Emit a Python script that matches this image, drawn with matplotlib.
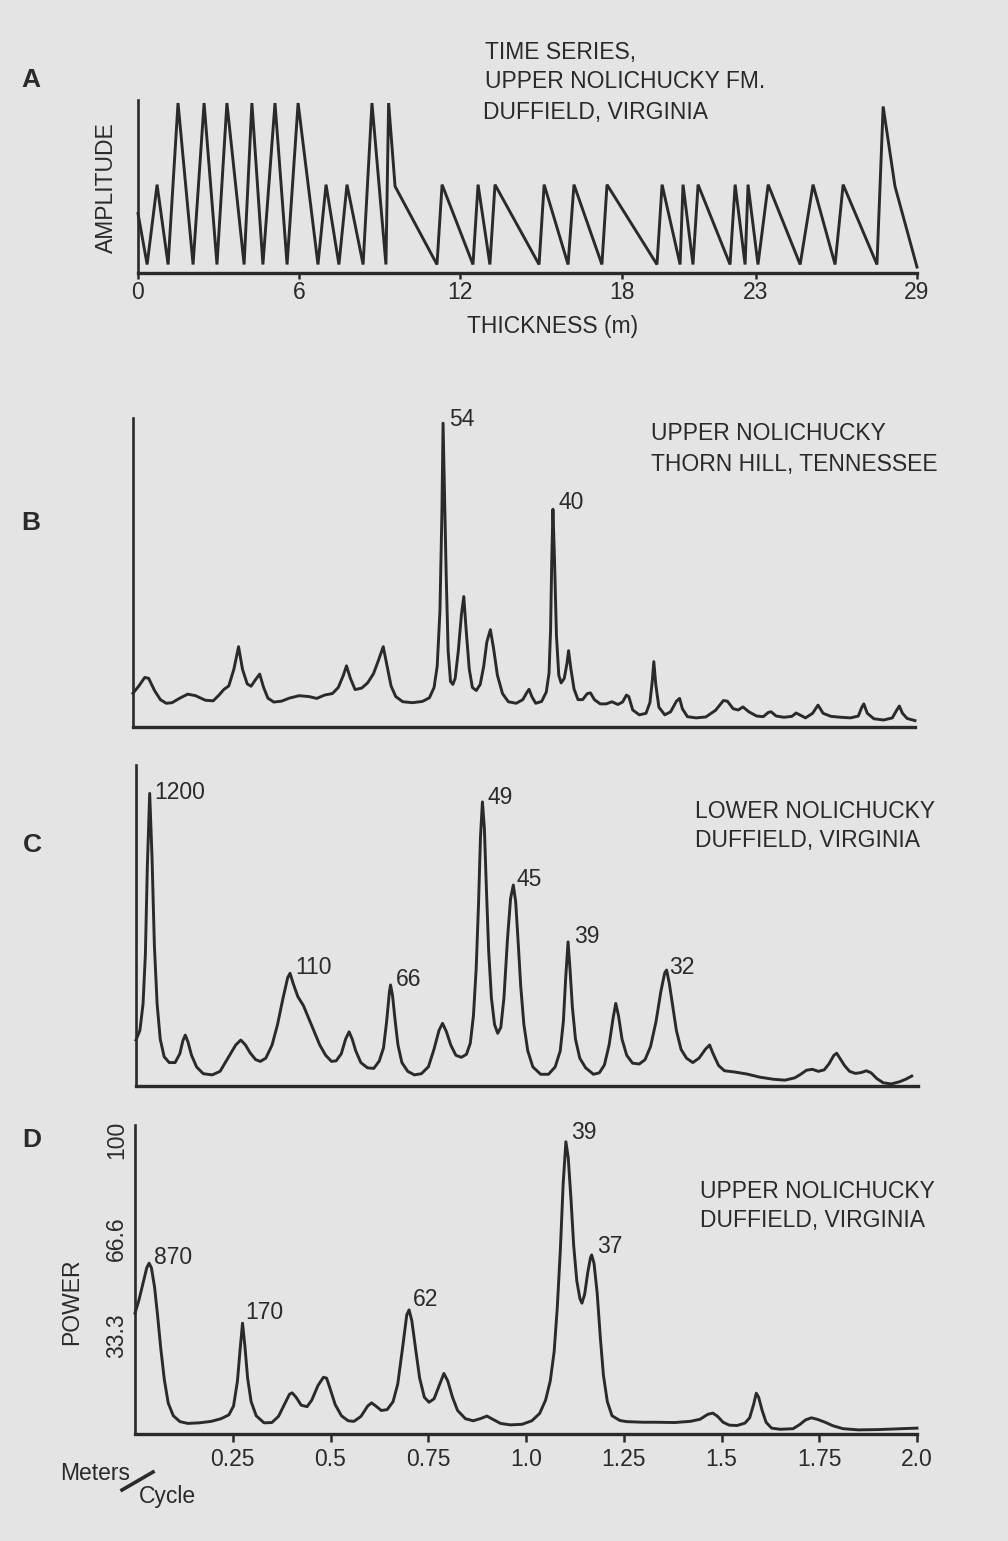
import matplotlib
matplotlib.use("Agg")
import matplotlib.pyplot as plt
from matplotlib.lines import Line2D

plt.rcParams['font.family'] = ['Liberation Sans', 'DejaVu Sans']

# ---------------- data ----------------
# Panel A: time series (thickness in m, relative amplitude)
a_thickness = [0, 0.34, 0.71, 1.12, 1.49, 2.05, 2.46, 2.94, 3.31, 3.95, 4.24, 4.65,
               5.10, 5.55, 5.96, 6.70, 7.00, 7.48, 7.78, 8.38, 8.71, 9.23, 9.33, 9.57,
               11.13, 11.32, 12.47, 12.66, 13.10, 13.29, 14.93, 15.12, 16.01, 16.23,
               17.27, 17.46, 19.32, 19.51, 20.18, 20.29, 20.66, 20.85, 22.04, 22.23,
               22.60, 22.71, 23.08, 23.46, 24.65, 25.13, 25.95, 26.25, 27.51, 27.74,
               28.18, 29.0]
a_amplitude = [0.35, 0.05, 0.52, 0.05, 1.0, 0.05, 1.0, 0.05, 1.0, 0.05, 1.0, 0.05,
               1.0, 0.05, 1.0, 0.05, 0.52, 0.05, 0.52, 0.05, 1.0, 0.05, 1.0, 0.51,
               0.05, 0.52, 0.05, 0.52, 0.05, 0.52, 0.05, 0.52, 0.05, 0.52, 0.05, 0.52,
               0.05, 0.52, 0.05, 0.52, 0.05, 0.52, 0.05, 0.52, 0.05, 0.52, 0.05, 0.52,
               0.05, 0.52, 0.05, 0.52, 0.05, 0.98, 0.51, 0.035]
a_tick_values = [0, 6, 12, 18, 23, 29]
a_tick_labels = ["0", "6", "12", "18", "23", "29"]

# Panel B: Upper Nolichucky, Thorn Hill (meters/cycle, relative power)
b_freq = [0.000, 0.015, 0.030, 0.040, 0.055, 0.070, 0.085, 0.100, 0.120, 0.140, 0.160,
          0.185, 0.205, 0.220, 0.232, 0.245, 0.258, 0.270, 0.280, 0.292, 0.302, 0.313,
          0.324, 0.334, 0.345, 0.360, 0.380, 0.400, 0.425, 0.450, 0.470, 0.490, 0.510,
          0.525, 0.538, 0.546, 0.556, 0.568, 0.585, 0.600, 0.615, 0.628, 0.640, 0.650,
          0.660, 0.672, 0.690, 0.715, 0.740, 0.758, 0.770, 0.778, 0.785, 0.790, 0.793,
          0.797, 0.801, 0.806, 0.812, 0.818, 0.824, 0.832, 0.840, 0.846, 0.852, 0.860,
          0.868, 0.878, 0.888, 0.897, 0.905, 0.914, 0.922, 0.932, 0.945, 0.960, 0.980,
          0.997, 1.008, 1.013, 1.020, 1.030, 1.045, 1.057, 1.064, 1.068, 1.071, 1.074,
          1.078, 1.083, 1.089, 1.095, 1.103, 1.110, 1.114, 1.120, 1.128, 1.138, 1.150,
          1.162, 1.170, 1.180, 1.195, 1.210, 1.225, 1.240, 1.252, 1.262, 1.268, 1.278,
          1.295, 1.312, 1.322, 1.328, 1.332, 1.337, 1.345, 1.360, 1.375, 1.390, 1.398,
          1.405, 1.418, 1.440, 1.465, 1.490, 1.510, 1.520, 1.535, 1.548, 1.560, 1.575,
          1.595, 1.612, 1.625, 1.632, 1.645, 1.665, 1.685, 1.696, 1.705, 1.720, 1.738,
          1.752, 1.765, 1.785, 1.810, 1.835, 1.855, 1.864, 1.869, 1.878, 1.895, 1.920,
          1.942, 1.953, 1.960, 1.968, 1.980, 2.000]
b_power = [11.1, 13.5, 16.3, 16.0, 12.0, 9.0, 7.8, 8.0, 9.5, 10.8, 10.3,
           8.8, 8.6, 10.5, 12.3, 13.5, 19.0, 26.4, 19.0, 14.2, 13.4, 15.5,
           17.4, 13.0, 9.5, 8.2, 8.5, 9.5, 10.3, 10.0, 9.4, 10.5, 11.0,
           13.0, 17.0, 20.1, 16.0, 12.3, 12.8, 14.5, 17.5, 22.0, 26.4, 20.0,
           13.5, 10.0, 8.3, 8.0, 8.4, 9.6, 13.0, 20.0, 38.0, 70.0, 99.9,
           75.0, 50.0, 25.0, 15.0, 14.0, 16.0, 25.0, 37.0, 42.9, 32.0, 19.0,
           13.0, 12.0, 14.0, 20.0, 28.0, 32.0, 26.0, 17.0, 11.0, 8.3, 7.8,
           9.0, 11.5, 12.4, 10.0, 7.8, 8.4, 11.5, 17.7, 32.0, 55.0, 71.6,
           55.0, 30.0, 17.0, 14.5, 16.0, 21.0, 25.1, 19.0, 12.5, 9.0, 9.0,
           11.0, 11.2, 9.0, 7.6, 7.6, 8.3, 7.4, 8.2, 10.5, 10.0, 5.6,
           4.0, 4.5, 8.0, 15.0, 21.5, 14.0, 6.5, 4.0, 5.0, 8.5, 9.4,
           6.0, 3.4, 3.0, 3.3, 5.5, 8.7, 8.5, 6.0, 5.6, 6.6, 5.0,
           3.6, 3.4, 4.8, 5.0, 3.6, 3.2, 3.5, 4.6, 4.0, 3.0, 4.5,
           7.2, 4.5, 3.5, 3.2, 3.0, 3.6, 6.5, 7.6, 4.5, 2.7, 2.3,
           3.0, 5.5, 6.9, 4.5, 2.8, 2.1]
b_peak_labels = ["54", "40"]

# Panel C: Lower Nolichucky, Duffield
c_freq = [0.000, 0.010, 0.018, 0.024, 0.029, 0.035, 0.041, 0.047, 0.054, 0.062, 0.072,
          0.085, 0.100, 0.112, 0.120, 0.126, 0.133, 0.142, 0.155, 0.172, 0.195, 0.215,
          0.235, 0.255, 0.268, 0.280, 0.292, 0.306, 0.318, 0.332, 0.348, 0.362, 0.376,
          0.388, 0.394, 0.402, 0.414, 0.428, 0.442, 0.456, 0.470, 0.485, 0.500, 0.512,
          0.525, 0.536, 0.545, 0.553, 0.562, 0.575, 0.592, 0.608, 0.622, 0.633, 0.641,
          0.648, 0.651, 0.656, 0.663, 0.670, 0.680, 0.695, 0.712, 0.730, 0.748, 0.762,
          0.775, 0.784, 0.794, 0.805, 0.818, 0.832, 0.845, 0.855, 0.863, 0.870, 0.876,
          0.881, 0.886, 0.891, 0.896, 0.902, 0.909, 0.917, 0.925, 0.933, 0.941, 0.950,
          0.958, 0.965, 0.971, 0.977, 0.984, 0.992, 1.002, 1.015, 1.035, 1.055, 1.072,
          1.085, 1.093, 1.099, 1.105, 1.110, 1.116, 1.124, 1.135, 1.150, 1.170, 1.185,
          1.198, 1.210, 1.220, 1.227, 1.234, 1.243, 1.255, 1.270, 1.287, 1.302, 1.316,
          1.330, 1.342, 1.352, 1.357, 1.364, 1.372, 1.382, 1.394, 1.408, 1.424, 1.440,
          1.456, 1.467, 1.476, 1.490, 1.505, 1.530, 1.562, 1.596, 1.630, 1.660, 1.685,
          1.700, 1.715, 1.730, 1.745, 1.760, 1.772, 1.785, 1.792, 1.800, 1.812, 1.825,
          1.840, 1.855, 1.868, 1.880, 1.895, 1.911, 1.932, 1.954, 1.970, 1.984]
c_power = [15.7, 19.0, 28.0, 45.0, 75.0, 99.9, 78.0, 48.0, 28.0, 16.0, 10.0,
           8.0, 8.0, 11.0, 15.5, 17.4, 15.0, 10.5, 6.5, 4.2, 3.8, 5.0,
           9.5, 14.0, 15.7, 14.0, 11.3, 9.0, 8.4, 9.5, 14.0, 21.0, 30.0,
           37.0, 38.5, 35.0, 30.5, 27.5, 23.0, 18.5, 14.0, 10.5, 8.4, 8.6,
           11.0, 16.0, 18.5, 16.0, 12.0, 8.0, 6.2, 6.0, 8.5, 13.0, 22.0,
           32.0, 34.5, 31.0, 22.0, 14.0, 8.0, 5.0, 3.8, 4.2, 6.6, 12.5,
           19.0, 21.4, 18.5, 14.0, 10.5, 9.8, 10.8, 14.6, 24.0, 40.0, 62.0,
           85.0, 97.0, 88.0, 68.0, 46.0, 30.0, 21.0, 18.0, 20.0, 30.0, 50.0,
           64.0, 68.6, 63.0, 50.0, 34.0, 21.0, 12.0, 6.5, 4.0, 4.0, 6.5,
           12.0, 22.0, 37.0, 49.2, 40.0, 27.0, 16.0, 9.5, 6.2, 4.0, 4.5,
           7.2, 14.0, 23.0, 28.2, 24.0, 16.0, 10.5, 7.8, 7.5, 9.0, 13.5,
           22.0, 32.0, 38.5, 39.6, 35.0, 28.0, 19.0, 12.5, 9.5, 8.0, 9.5,
           12.5, 14.0, 11.0, 7.0, 5.2, 4.8, 4.1, 3.0, 2.3, 2.0, 2.8,
           4.0, 5.4, 5.7, 5.0, 5.5, 7.5, 10.5, 11.2, 9.5, 7.0, 5.0,
           4.3, 4.6, 5.2, 4.5, 2.5, 1.1, 0.7, 1.5, 2.4, 3.4]
c_peak_labels = ["1200", "110", "66", "49", "45", "39", "32"]

# Panel D: Upper Nolichucky, Duffield (power 0-100)
d_freq = [0.000, 0.010, 0.020, 0.030, 0.036, 0.042, 0.050, 0.058, 0.066, 0.075, 0.085,
          0.098, 0.115, 0.135, 0.165, 0.195, 0.220, 0.240, 0.252, 0.262, 0.269, 0.275,
          0.281, 0.288, 0.297, 0.310, 0.330, 0.350, 0.367, 0.382, 0.395, 0.402, 0.412,
          0.425, 0.440, 0.452, 0.468, 0.482, 0.490, 0.500, 0.512, 0.528, 0.545, 0.560,
          0.578, 0.595, 0.605, 0.616, 0.630, 0.645, 0.660, 0.672, 0.685, 0.695, 0.701,
          0.708, 0.718, 0.728, 0.740, 0.752, 0.765, 0.778, 0.790, 0.800, 0.812, 0.825,
          0.845, 0.865, 0.885, 0.900, 0.915, 0.935, 0.960, 0.990, 1.015, 1.035, 1.050,
          1.062, 1.072, 1.080, 1.088, 1.095, 1.102, 1.108, 1.115, 1.122, 1.130, 1.138,
          1.143, 1.150, 1.158, 1.165, 1.168, 1.174, 1.182, 1.190, 1.198, 1.208, 1.220,
          1.240, 1.258, 1.300, 1.333, 1.380, 1.420, 1.445, 1.465, 1.478, 1.490, 1.504,
          1.520, 1.540, 1.560, 1.572, 1.582, 1.589, 1.595, 1.604, 1.614, 1.628, 1.650,
          1.683, 1.700, 1.715, 1.730, 1.745, 1.765, 1.785, 1.811, 1.850, 1.900, 1.957,
          2.000]
d_power = [41.1, 45.5, 51.0, 56.5, 58.1, 56.5, 50.0, 40.0, 29.0, 18.5, 10.5,
           6.2, 4.2, 3.6, 3.8, 4.3, 5.2, 6.5, 9.5, 18.0, 29.0, 37.7,
           30.0, 19.0, 11.0, 6.2, 3.8, 3.9, 6.0, 10.0, 13.5, 14.0, 12.5,
           9.8, 9.3, 11.5, 16.5, 19.3, 19.0, 15.0, 10.0, 6.2, 4.5, 4.3,
           6.0, 9.5, 10.6, 9.5, 8.0, 8.3, 11.0, 17.0, 30.0, 40.5, 42.2,
           38.5, 28.6, 19.0, 12.5, 10.8, 12.0, 16.5, 20.6, 18.0, 12.5, 8.0,
           5.2, 4.5, 5.3, 6.1, 5.0, 3.6, 3.1, 3.3, 4.5, 7.0, 11.5,
           18.0, 28.0, 43.0, 63.0, 85.0, 99.4, 94.0, 80.0, 64.0, 52.0, 46.0,
           44.5, 47.5, 55.0, 60.0, 60.9, 58.0, 48.0, 33.0, 20.0, 11.0, 6.2,
           4.6, 4.2, 4.0, 4.0, 3.9, 4.3, 5.0, 6.7, 7.1, 6.0, 4.0,
           3.0, 2.9, 3.7, 5.5, 10.0, 13.9, 12.5, 8.0, 4.0, 2.0, 1.6,
           1.8, 3.2, 4.8, 5.5, 5.0, 4.0, 2.8, 1.8, 1.4, 1.5, 1.8,
           2.0]
d_peak_labels = ["870", "170", "62", "39", "37"]
d_xticks = [0.25, 0.5, 0.75, 1.0, 1.25, 1.5, 1.75, 2.0]
d_xtick_labels = ["0.25", "0.5", "0.75", "1.0", "1.25", "1.5", "1.75", "2.0"]
d_yticks = [33.3, 66.6, 100]
d_ytick_labels = ["33.3", "66.6", "100"]

# ---------------- layout / style ----------------
W, H = 1008, 1541
BG = '#e4e4e4'
INK = '#2a2a2a'
FS = 16.5

fig = plt.figure(figsize=(W / 100, H / 100), dpi=100, facecolor=BG)


def add_ax(left, right, top, bottom):
    ax = fig.add_axes([left / W, 1 - bottom / H, (right - left) / W, (bottom - top) / H])
    ax.set_facecolor('none')
    for s in ('top', 'right'):
        ax.spines[s].set_visible(False)
    ax.spines['left'].set_linewidth(1.9)
    ax.spines['bottom'].set_linewidth(2.4)
    ax.spines['left'].set_color(INK)
    ax.spines['bottom'].set_color(INK)
    ax.tick_params(colors=INK, labelsize=FS, width=1.8)
    return ax


def ftext(x, y, s, **kw):
    kw.setdefault('fontsize', FS)
    kw.setdefault('color', INK)
    fig.text(x / W, 1 - y / H, s, **kw)


line_kw = dict(color=INK, lw=2.1, solid_joinstyle='round', clip_on=False)

# Panel A
axA = add_ax(138, 917, 100, 273)
axA.plot(a_thickness, a_amplitude, color=INK, lw=2.1, solid_joinstyle='miter', clip_on=False)
axA.set_xlim(0, 29)
axA.set_ylim(0, 1.018)
axA.set_yticks([])
axA.set_xticks(a_tick_values)
axA.set_xticklabels(a_tick_labels)
axA.tick_params(axis='x', direction='out', length=4, pad=1.5)

# Panel B
axB = add_ax(133, 915, 418, 727)
axB.plot(b_freq, b_power, **line_kw)
axB.set_xlim(0, 2.0)
axB.set_ylim(0, 101.6)
axB.set_xticks([])
axB.set_yticks([])
b_label_pos = [(0.808, 101.0), (1.087, 73.7)]
for lab, (x, y) in zip(b_peak_labels, b_label_pos):
    axB.text(x, y, lab, fontsize=FS, color=INK, ha='left', va='center', clip_on=False)

# Panel C
axC = add_ax(136, 918, 765, 1086)
axC.plot(c_freq, c_power, **line_kw)
axC.set_xlim(0, 2.0)
axC.set_ylim(0, 109.6)
axC.set_xticks([])
axC.set_yticks([])
c_label_pos = [(0.046, 100.3), (0.408, 40.3), (0.665, 36.2), (0.900, 98.6),
               (0.974, 70.6), (1.120, 50.9), (1.363, 40.6)]
for lab, (x, y) in zip(c_peak_labels, c_label_pos):
    axC.text(x, y, lab, fontsize=FS, color=INK, ha='left', va='center', clip_on=False)

# Panel D
axD = add_ax(135, 917, 1125, 1434)
axD.plot(d_freq, d_power, **line_kw)
axD.set_xlim(0, 2.0)
axD.set_ylim(0, 105.1)
axD.set_xticks(d_xticks)
axD.set_xticklabels(d_xtick_labels)
axD.tick_params(axis='x', direction='out', length=5.5, pad=4.5)
axD.set_yticks(d_yticks)
axD.set_yticklabels(d_ytick_labels, rotation=90, va='center')
axD.tick_params(axis='y', length=0, pad=5)
d_label_pos = [(0.049, 60.2), (0.281, 41.2), (0.711, 45.9), (1.115, 102.7), (1.182, 63.9)]
for lab, (x, y) in zip(d_peak_labels, d_label_pos):
    axD.text(x, y, lab, fontsize=FS, color=INK, ha='left', va='center', clip_on=False)

# Panel letters
for letter, (x, y) in zip("ABCD", [(31, 80), (31, 523), (32, 845), (32, 1140)]):
    ftext(x, y, letter, fontsize=19, fontweight='bold', ha='center', va='center')

# Titles
ftext(485, 52, "TIME SERIES,", va='center')
ftext(485, 82, "UPPER NOLICHUCKY FM.", va='center')
ftext(483, 112, "DUFFIELD, VIRGINIA", va='center')
ftext(651, 434, "UPPER NOLICHUCKY", va='center')
ftext(651, 464, "THORN HILL, TENNESSEE", va='center')
ftext(695, 812, "LOWER NOLICHUCKY", va='center')
ftext(695, 841, "DUFFIELD, VIRGINIA", va='center')
ftext(700, 1192, "UPPER NOLICHUCKY", va='center')
ftext(700, 1221, "DUFFIELD, VIRGINIA", va='center')

# Axis titles
ftext(106, 188, "AMPLITUDE", rotation=90, ha='center', va='center')
ftext(553, 327, "THICKNESS (m)", ha='center', va='center')
ftext(72, 1302, "POWER", rotation=90, ha='center', va='center')
ftext(60, 1473, "Meters", ha='left', va='center')
ftext(139, 1496, "Cycle", ha='left', va='center')
fig.add_artist(Line2D([122 / W, 153 / W], [1 - 1490 / H, 1 - 1472 / H],
                      color=INK, lw=2.6, transform=fig.transFigure))

fig.savefig("out.png", dpi=100, facecolor=BG)
